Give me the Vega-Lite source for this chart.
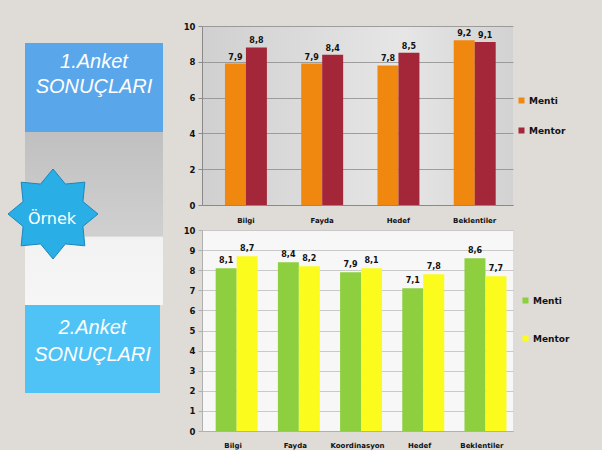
{
  "$schema": "https://vega.github.io/schema/vega-lite/v6.json",
  "background": "#dfdcd7",
  "padding": {"left": 6, "top": 22, "right": 32, "bottom": 2},
  "config": {
    "locale": {"number": {"decimal": ",", "thousands": ".", "grouping": [3], "currency": ["", ""]}},
    "font": "DejaVu Sans",
    "view": {"stroke": null}
  },
  "datasets": {
    "anket1": [
      {"kategori": "Bilgi", "grup": "Menti", "deger": 7.9},
      {"kategori": "Bilgi", "grup": "Mentor", "deger": 8.8},
      {"kategori": "Fayda", "grup": "Menti", "deger": 7.9},
      {"kategori": "Fayda", "grup": "Mentor", "deger": 8.4},
      {"kategori": "Hedef", "grup": "Menti", "deger": 7.8},
      {"kategori": "Hedef", "grup": "Mentor", "deger": 8.5},
      {"kategori": "Beklentiler", "grup": "Menti", "deger": 9.2},
      {"kategori": "Beklentiler", "grup": "Mentor", "deger": 9.1}
    ],
    "anket2": [
      {"kategori": "Bilgi", "grup": "Menti", "deger": 8.1},
      {"kategori": "Bilgi", "grup": "Mentor", "deger": 8.7},
      {"kategori": "Fayda", "grup": "Menti", "deger": 8.4},
      {"kategori": "Fayda", "grup": "Mentor", "deger": 8.2},
      {"kategori": "Koordinasyon", "grup": "Menti", "deger": 7.9},
      {"kategori": "Koordinasyon", "grup": "Mentor", "deger": 8.1},
      {"kategori": "Hedef", "grup": "Menti", "deger": 7.1},
      {"kategori": "Hedef", "grup": "Mentor", "deger": 7.8},
      {"kategori": "Beklentiler", "grup": "Menti", "deger": 8.6},
      {"kategori": "Beklentiler", "grup": "Mentor", "deger": 7.7}
    ],
    "kutu1": [{"satir": "1.Anket\nSONUÇLARI"}],
    "kutu2": [{"satir": "2.Anket\nSONUÇLARI"}],
    "yildiz": [{"etiket": "Örnek"}],
    "bos": [{"etiket": ""}]
  },
  "spacing": 20,
  "hconcat": [
    {
      "bounds": "flush",
      "spacing": 0,
      "vconcat": [
        {
          "width": 138, "height": 17,
          "data": {"name": "bos"},
          "mark": {"type": "text"},
          "encoding": {"text": {"field": "etiket", "type": "nominal"}}
        },
        {
          "width": 138, "height": 89,
          "view": {"fill": "#5aa6ea"},
          "data": {"name": "kutu1"},
          "mark": {"type": "text", "font": "Liberation Sans", "fontStyle": "italic", "fontSize": 20, "color": "white", "baseline": "middle", "lineBreak": "\n", "lineHeight": 25, "dy": -26},
          "encoding": {"text": {"field": "satir", "type": "nominal"}}
        },
        {
          "width": 138, "height": 173,
          "view": {"fill": {"gradient": "linear", "x1": 0, "y1": 0, "x2": 0, "y2": 1, "stops": [{"offset": 0, "color": "#c0c0c0"}, {"offset": 0.6, "color": "#d0d0d0"}, {"offset": 0.61, "color": "#f2f2f2"}, {"offset": 1, "color": "#f6f6f6"}]}},
          "data": {"name": "yildiz"},
          "layer": [
            {
              "mark": {"type": "point", "shape": "M0,-1L0.276,-0.665L0.707,-0.707L0.665,-0.276L1,0L0.665,0.276L0.707,0.707L0.276,0.665L0,1L-0.276,0.665L-0.707,0.707L-0.665,0.276L-1,0L-0.665,-0.276L-0.707,-0.707L-0.276,-0.665Z", "size": 8100, "filled": true, "fill": "#2aaee6", "stroke": "#1d86bd", "strokeWidth": 1, "opacity": 1, "xOffset": -41, "yOffset": -4.5},
              "encoding": {}
            },
            {
              "mark": {"type": "text", "fontSize": 16, "color": "white", "baseline": "middle", "xOffset": -42},
              "encoding": {"text": {"field": "etiket", "type": "nominal"}}
            }
          ]
        },
        {
          "width": 135, "height": 88,
          "view": {"fill": "#4fc3f5"},
          "data": {"name": "kutu2"},
          "mark": {"type": "text", "font": "Liberation Sans", "fontStyle": "italic", "fontSize": 20, "color": "white", "baseline": "middle", "lineBreak": "\n", "lineHeight": 27, "dy": -21},
          "encoding": {"text": {"field": "satir", "type": "nominal"}}
        }
      ]
    },
    {
      "spacing": 3,
      "resolve": {"scale": {"color": "independent"}, "legend": {"color": "independent"}},
      "vconcat": [
        {
          "width": 311, "height": 179,
          "view": {"fill": {"gradient": "linear", "x1": 0, "y1": 0, "x2": 1, "y2": 0, "stops": [{"offset": 0, "color": "#d0d0d0"}, {"offset": 0.65, "color": "#e6e6e6"}, {"offset": 1, "color": "#d2d2d2"}]}},
          "data": {"name": "anket1"},
          "encoding": {
            "x": {"field": "kategori", "type": "nominal", "sort": ["Bilgi", "Fayda", "Hedef", "Beklentiler"], "title": null,
                  "scale": {"paddingInner": 0.45, "paddingOuter": 0.264, "align": 0.57},
                  "axis": {"labelAngle": 0, "labelFontSize": 7, "labelFontWeight": "bold", "labelColor": "#111", "labelPadding": 11, "ticks": false, "domainColor": "#8a8a8a", "domainWidth": 1}},
            "xOffset": {"field": "grup", "type": "nominal", "sort": ["Menti", "Mentor"]},
            "y": {"field": "deger", "type": "quantitative", "title": null,
                  "scale": {"domain": [0, 10]},
                  "axis": {"values": [0, 2, 4, 6, 8, 10], "labelFontSize": 8.5, "labelFontWeight": "bold", "labelColor": "#111", "labelPadding": 3, "tickSize": 4, "tickColor": "#8a8a8a", "domainColor": "#8a8a8a", "gridColor": "#8c8c8c", "gridWidth": 0.8}}
          },
          "layer": [
            {
              "mark": {"type": "bar"},
              "encoding": {
                "color": {"field": "grup", "type": "nominal",
                          "scale": {"domain": ["Menti", "Mentor"], "range": ["#f0880f", "#a42639"]},
                          "legend": {"title": null, "orient": "none", "legendX": 315, "legendY": 70, "symbolType": "square", "symbolSize": 36, "labelFontSize": 9, "labelFontWeight": "bold", "labelColor": "#111", "rowPadding": 20, "labelOffset": 3}}
              }
            },
            {
              "mark": {"type": "text", "baseline": "bottom", "dy": -2, "fontSize": 8, "fontWeight": "bold", "color": "#111"},
              "encoding": {"text": {"field": "deger", "type": "quantitative", "format": ".1f"}}
            }
          ]
        },
        {
          "width": 311, "height": 201,
          "view": {"fill": "#f7f7f7"},
          "data": {"name": "anket2"},
          "encoding": {
            "x": {"field": "kategori", "type": "nominal", "sort": ["Bilgi", "Fayda", "Koordinasyon", "Hedef", "Beklentiler"], "title": null,
                  "scale": {"paddingInner": 0.44, "paddingOuter": 0.22},
                  "axis": {"labelAngle": 0, "labelFontSize": 7, "labelFontWeight": "bold", "labelColor": "#111", "labelPadding": 10, "ticks": false, "domainColor": "#b0b0b0", "domainWidth": 1}},
            "xOffset": {"field": "grup", "type": "nominal", "sort": ["Menti", "Mentor"]},
            "y": {"field": "deger", "type": "quantitative", "title": null,
                  "scale": {"domain": [0, 10]},
                  "axis": {"values": [0, 1, 2, 3, 4, 5, 6, 7, 8, 9, 10], "labelFontSize": 8.5, "labelFontWeight": "bold", "labelColor": "#111", "labelPadding": 3, "tickSize": 4, "tickColor": "#b0b0b0", "domainColor": "#b0b0b0", "gridColor": "#bdbdbd", "gridWidth": 0.8}}
          },
          "layer": [
            {
              "mark": {"type": "bar"},
              "encoding": {
                "color": {"field": "grup", "type": "nominal",
                          "scale": {"domain": ["Menti", "Mentor"], "range": ["#8dcf3f", "#fbfb1e"]},
                          "legend": {"title": null, "orient": "none", "legendX": 319, "legendY": 66, "symbolType": "square", "symbolSize": 36, "labelFontSize": 9, "labelFontWeight": "bold", "labelColor": "#111", "rowPadding": 28, "labelOffset": 3}}
              }
            },
            {
              "mark": {"type": "text", "baseline": "bottom", "dy": -3, "fontSize": 8, "fontWeight": "bold", "color": "#111"},
              "encoding": {"text": {"field": "deger", "type": "quantitative", "format": ".1f"}}
            }
          ]
        }
      ]
    }
  ],
  "resolve": {"scale": {"color": "independent"}, "legend": {"color": "independent"}}
}
